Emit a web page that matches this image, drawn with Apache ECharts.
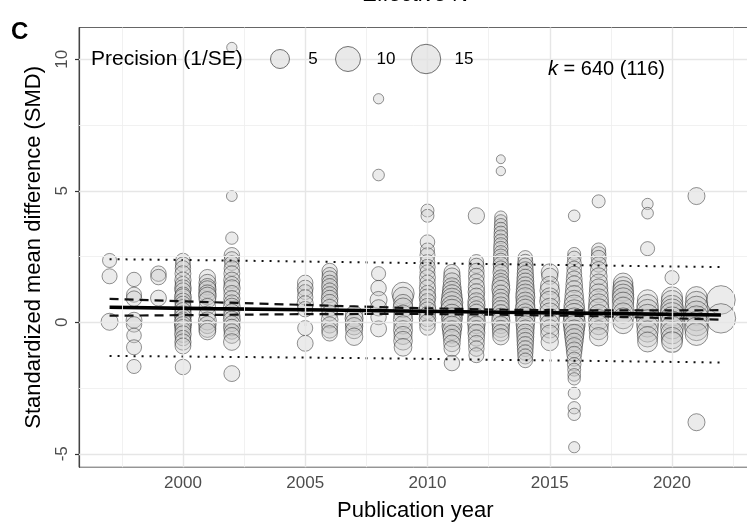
<!DOCTYPE html>
<html>
<head>
<meta charset="utf-8">
<script src="https://cdn.jsdelivr.net/npm/echarts@6/dist/echarts.min.js"></script>
<style>
  html, body { margin: 0; padding: 0; background: #fff; }
  #chart { width: 747px; height: 527px; }
</style>
</head>
<body>
<div id="chart"></div>
<script>
// publication years that have effect sizes
const years = [1997, 1998, 1999, 2000, 2001, 2002, 2005, 2006, 2007, 2008, 2009, 2010,
  2011, 2012, 2013, 2014, 2015, 2016, 2017, 2018, 2019, 2020, 2021, 2022];

// SMD per year (same order as years)
const smd = [
  [2.35, 1.75, 0.02],
  [1.63, 1.05, 0.9, 0.08, -0.08, -0.5, -0.95, -1.68],
  [1.85, 1.72, 0.92],
  [2.35, 2.2, 2.05, 1.85, 1.6, 1.45, 1.3, 1.2, 1.05, 0.95, 0.8, 0.7, 0.55, 0.45, 0.3, 0.2, 0.1, 0.0, -0.1, -0.2, -0.3, -0.45, -0.6, -0.75, -0.9, -1.7],
  [1.7, 1.5, 1.35, 1.25, 1.1, 1.0, 0.85, 0.6, 0.3, 0.05, -0.1, -0.25, -0.35],
  [10.45, 4.8, 3.2, 2.55, 2.4, 2.25, 2.05, 1.85, 1.6, 1.45, 1.3, 1.1, 0.9, 0.75, 0.6, 0.4, 0.25, 0.1, -0.05, -0.2, -0.35, -0.5, -0.75, -1.95],
  [1.5, 1.3, 1.15, 0.95, 0.7, 0.5, -0.22, -0.8],
  [1.95, 1.8, 1.65, 1.5, 1.35, 1.2, 1.05, 0.9, 0.75, 0.55, 0.35, 0.1, -0.1, -0.3, -0.42],
  [0.3, 0.15, 0.0, -0.15, -0.3, -0.55],
  [8.5, 5.6, 1.85, 1.3, 0.85, 0.55, 0.2, -0.25],
  [1.1, 0.95, 0.7, 0.55, 0.3, 0.1, -0.1, -0.3, -0.5, -0.7, -0.95],
  [4.25, 4.05, 3.05, 2.75, 2.55, 2.3, 2.1, 1.9, 1.7, 1.5, 1.3, 1.1, 0.95, 0.8, 0.6, 0.45, 0.3, 0.15, 0.0, -0.2],
  [1.9, 1.75, 1.55, 1.35, 1.2, 1.05, 0.9, 0.75, 0.6, 0.45, 0.3, 0.15, 0.0, -0.15, -0.3, -0.45, -0.6, -0.8, -1.0, -1.55],
  [4.05, 2.3, 2.15, 1.95, 1.75, 1.55, 1.35, 1.15, 1.0, 0.8, 0.65, 0.5, 0.35, 0.2, 0.05, -0.1, -0.25, -0.4, -0.6, -0.8, -1.0, -1.25],
  [6.2, 5.75, 4.0, 3.85, 3.7, 3.55, 3.4, 3.25, 3.1, 2.95, 2.8, 2.65, 2.5, 2.35, 2.2, 2.05, 1.9, 1.7, 1.55, 1.4, 1.25, 1.1, 0.95, 0.8, 0.65, 0.5, 0.35, 0.2, 0.05, -0.1, -0.25, -0.4, -0.55],
  [2.45, 2.3, 2.15, 2.0, 1.85, 1.7, 1.55, 1.4, 1.25, 1.1, 0.95, 0.8, 0.65, 0.5, 0.35, 0.2, 0.05, -0.1, -0.25, -0.4, -0.55, -0.7, -0.85, -1.0, -1.15, -1.3, -1.45],
  [1.9, 1.75, 1.4, 1.2, 0.95, 0.8, 0.55, 0.35, 0.15, -0.05, -0.25, -0.45, -0.75],
  [4.05, 2.6, 2.45, 2.25, 2.05, 1.85, 1.65, 1.45, 1.25, 1.05, 0.85, 0.65, 0.45, 0.3, 0.15, 0.0, -0.15, -0.3, -0.45, -0.6, -0.75, -0.9, -1.05, -1.2, -1.4, -1.6, -1.8, -2.0, -2.15, -2.7, -3.25, -3.5, -4.75],
  [4.6, 2.75, 2.6, 2.45, 2.2, 2.0, 1.75, 1.5, 1.3, 1.1, 0.9, 0.7, 0.5, 0.3, 0.1, -0.1, -0.3, -0.55],
  [1.5, 1.35, 1.2, 1.05, 0.9, 0.75, 0.55, 0.35, 0.15, -0.05],
  [4.5, 4.15, 2.8, 0.85, 0.65, 0.45, 0.25, 0.05, -0.15, -0.35, -0.55, -0.75],
  [1.7, 0.95, 0.8, 0.6, 0.45, 0.3, 0.15, 0.0, -0.2, -0.4, -0.6, -0.75],
  [4.8, 0.95, 0.75, 0.55, 0.35, 0.15, -0.05, -0.25, -0.45, -3.8],
  [0.85, 0.15]
];

// precision (1/SE) per point, same layout as smd
const precision = [
  [2.4, 2.8, 3.8],
  [2.5, 2.8, 3.0, 3.2, 3.0, 2.6, 2.8, 2.4],
  [3.0, 3.0, 3.2],
  [2.6, 2.8, 3.0, 3.2, 3.4, 3.0, 3.6, 3.2, 3.0, 3.8, 3.4, 3.0, 3.6, 3.2, 3.8, 3.4, 3.0, 4.0, 3.6, 3.4, 3.2, 3.6, 3.0, 3.4, 3.2, 3.0],
  [3.4, 3.8, 3.6, 4.0, 3.8, 4.2, 3.6, 3.4, 3.6, 4.4, 4.0, 3.8, 3.6],
  [1.3, 1.4, 1.8, 3.0, 2.8, 2.6, 3.0, 3.2, 3.4, 3.0, 3.6, 3.2, 3.4, 3.0, 3.6, 3.2, 3.4, 3.8, 3.2, 3.6, 3.0, 3.2, 3.6, 3.2],
  [3.0, 3.2, 2.8, 3.0, 3.4, 3.0, 2.8, 3.2],
  [3.0, 2.8, 3.2, 3.0, 3.4, 3.0, 3.2, 3.6, 3.4, 3.8, 3.2, 3.6, 3.4, 3.2, 3.0],
  [4.0, 4.4, 4.2, 4.0, 3.8, 4.0],
  [1.3, 1.6, 2.4, 3.0, 3.8, 3.4, 3.0, 3.2],
  [7.5, 6.0, 5.0, 5.5, 4.8, 5.2, 4.6, 5.0, 4.4, 4.8, 4.2],
  [2.0, 2.0, 2.6, 2.4, 2.8, 2.6, 3.0, 2.8, 3.2, 3.0, 3.4, 3.2, 3.6, 3.0, 3.4, 3.8, 3.2, 3.6, 3.4, 3.0],
  [3.2, 3.6, 4.0, 4.4, 5.0, 5.6, 6.4, 7.2, 6.8, 7.6, 6.0, 6.6, 5.4, 5.8, 5.0, 4.4, 4.0, 3.6, 3.2, 3.0],
  [3.4, 2.6, 2.8, 3.0, 3.2, 3.0, 3.4, 3.6, 3.2, 3.8, 4.0, 3.6, 4.2, 3.8, 4.4, 4.0, 3.6, 3.8, 3.4, 3.2, 3.0, 2.8],
  [1.1, 1.15, 1.8, 1.9, 2.0, 2.1, 2.2, 2.3, 2.2, 2.4, 2.6, 2.4, 2.8, 2.6, 3.0, 2.8, 3.2, 3.0, 3.4, 4.2, 4.4, 3.6, 3.4, 3.8, 3.6, 4.0, 3.8, 4.2, 4.6, 4.0, 3.8, 3.6, 3.4],
  [2.6, 2.8, 3.0, 3.2, 3.4, 3.6, 3.8, 4.0, 4.4, 4.8, 5.2, 4.6, 5.0, 5.6, 4.8, 5.4, 5.0, 4.6, 4.2, 4.0, 3.8, 3.6, 3.4, 3.2, 3.0, 2.8, 2.6],
  [3.8, 3.4, 4.6, 5.4, 5.0, 5.8, 5.2, 6.0, 5.4, 5.0, 4.6, 4.4, 4.0],
  [1.6, 2.0, 2.2, 2.4, 2.6, 2.8, 3.2, 3.6, 4.0, 4.6, 5.2, 6.0, 6.8, 7.2, 6.4, 7.6, 6.8, 6.0, 5.4, 4.8, 4.2, 3.6, 3.2, 2.8, 2.4, 2.2, 2.0, 1.9, 1.8, 1.7, 1.8, 1.8, 1.5],
  [2.0, 2.4, 2.6, 2.8, 3.0, 3.4, 3.8, 4.2, 4.6, 5.0, 5.4, 5.8, 6.2, 5.6, 6.0, 5.4, 5.0, 4.6],
  [5.4, 5.8, 6.2, 6.6, 7.0, 6.4, 6.8, 6.0, 6.4, 5.8],
  [1.5, 1.6, 2.4, 6.0, 6.8, 7.4, 8.0, 7.6, 7.0, 6.6, 6.0, 5.6],
  [2.4, 6.4, 7.0, 7.6, 8.2, 8.8, 8.2, 7.6, 8.0, 7.4, 6.8, 6.2],
  [3.8, 6.8, 7.6, 8.4, 9.2, 10.0, 9.4, 8.6, 7.8, 3.8],
  [14.0, 15.0]
];

// meta-regression fit, confidence band and prediction band
const fitYears = [1997, 2001, 2005, 2009, 2013, 2017, 2022];
const fitMean = [0.57, 0.52, 0.48, 0.43, 0.38, 0.34, 0.28];
const ciUpper = [0.89, 0.77, 0.66, 0.55, 0.48, 0.45, 0.46];
const ciLower = [0.25, 0.28, 0.31, 0.32, 0.29, 0.23, 0.10];
const piUpper = [2.40, 2.36, 2.31, 2.26, 2.21, 2.16, 2.10];
const piLower = [-1.28, -1.31, -1.34, -1.38, -1.43, -1.47, -1.53];

const xMajor = [2000, 2005, 2010, 2015, 2020];
const xMinor = [1997.5, 2002.5, 2007.5, 2012.5, 2017.5, 2022.5];
const yMajor = [-5, 0, 5, 10];
const yMinor = [-2.5, 2.5, 7.5];
const legendPrecision = [5, 10, 15];

const FONT = '"Liberation Sans", Arial, Helvetica, sans-serif';

function bubble(p) {
  return 7 + 24 * Math.sqrt(Math.max(p - 1, 0) / 16);
}

const points = [];
years.forEach((yr, i) => {
  smd[i].forEach((v, j) => points.push([yr, v, precision[i][j]]));
});

function zip(xs, ys) {
  return xs.map((x, i) => [x, ys[i]]);
}

const gridLines = [];
xMinor.forEach(v => gridLines.push({ xAxis: v, lineStyle: { color: '#efefef', width: 0.9, type: 'solid' } }));
yMinor.forEach(v => gridLines.push({ yAxis: v, lineStyle: { color: '#efefef', width: 0.9, type: 'solid' } }));
xMajor.forEach(v => gridLines.push({ xAxis: v, lineStyle: { color: '#e6e6e6', width: 1.4, type: 'solid' } }));
yMajor.forEach(v => gridLines.push({ yAxis: v, lineStyle: { color: '#e6e6e6', width: 1.4, type: 'solid' } }));

// legend drawn by hand, like the ggplot size guide
const legendX = [280, 348, 426];
const legendLabelX = [313, 386, 464];
const graphics = [
  { type: 'text', x: 11, y: 32, style: { text: 'C', font: 'bold 24px ' + FONT, fill: '#000', verticalAlign: 'middle' } },
  { type: 'text', x: 415, y: 6, style: { text: 'Effective N', font: '22px ' + FONT, fill: '#000', align: 'center', verticalAlign: 'bottom' } },
  { type: 'text', x: 91, y: 59, z: 10, style: { text: 'Precision (1/SE)', font: '21px ' + FONT, fill: '#000', verticalAlign: 'middle' } },
  { type: 'text', x: 548, y: 69, z: 10, style: {
      text: '{k|k} = 640 (116)', font: '20px ' + FONT, fill: '#000', verticalAlign: 'middle',
      rich: { k: { fontStyle: 'italic', fontSize: 20, fontFamily: FONT } }
  } }
];
legendPrecision.forEach((p, i) => {
  graphics.push({ type: 'circle', z: 10, shape: { cx: legendX[i], cy: 59, r: bubble(p) / 2 },
    style: { fill: 'rgba(225,225,225,0.75)', stroke: 'rgba(80,80,80,0.8)', lineWidth: 1 } });
  graphics.push({ type: 'text', z: 10, x: legendLabelX[i], y: 59,
    style: { text: String(p), font: '17px ' + FONT, fill: '#000', align: 'center', verticalAlign: 'middle' } });
});

const myChart = echarts.init(document.getElementById('chart'));
const option = {
  animation: false,
  textStyle: { fontFamily: FONT },
  grid: {
    left: 79, top: 27.5, width: 672.5, height: 439.7,
    show: true, borderColor: '#666', borderWidth: 1, backgroundColor: 'transparent',
    outerBoundsMode: 'none'
  },
  xAxis: {
    type: 'value', min: 1995.75, max: 2023.25,
    name: 'Publication year', nameLocation: 'middle', nameGap: 33,
    nameTextStyle: { fontSize: 22, color: '#000', fontFamily: FONT },
    axisLine: { show: true, lineStyle: { color: '#444', width: 1.2 } },
    axisTick: { show: true, length: 4, customValues: xMajor, lineStyle: { color: '#333', width: 1.2 } },
    axisLabel: { customValues: xMajor, formatter: v => String(v), fontSize: 17, color: '#4d4d4d', margin: 8, fontFamily: FONT },
    splitLine: { show: false }
  },
  yAxis: {
    type: 'value', min: -5.51, max: 11.21,
    name: 'Standardized mean difference (SMD)', nameLocation: 'middle', nameGap: 34,
    nameTextStyle: { fontSize: 22, color: '#000', fontFamily: FONT },
    axisLine: { show: true, lineStyle: { color: '#444', width: 1.2 } },
    axisTick: { show: true, length: 4, customValues: yMajor, lineStyle: { color: '#333', width: 1.2 } },
    axisLabel: { customValues: yMajor, formatter: v => String(v), rotate: 90, fontSize: 17, color: '#4d4d4d', margin: 8, fontFamily: FONT },
    splitLine: { show: false }
  },
  graphic: graphics,
  series: [
    {
      type: 'scatter', data: [], silent: true, z: 1,
      markLine: { silent: true, symbol: 'none', label: { show: false }, data: gridLines, animation: false }
    },
    {
      type: 'scatter', data: points, z: 2,
      symbolSize: v => bubble(v[2]),
      itemStyle: { color: 'rgba(200,200,200,0.45)', borderColor: 'rgba(30,30,30,0.6)', borderWidth: 1 }
    },
    {
      type: 'line', data: zip(fitYears, piUpper), z: 3, showSymbol: false, symbol: 'none',
      lineStyle: { color: '#111', width: 2, type: [2, 6] }
    },
    {
      type: 'line', data: zip(fitYears, piLower), z: 3, showSymbol: false, symbol: 'none',
      lineStyle: { color: '#111', width: 2, type: [2, 6] }
    },
    {
      type: 'line', data: zip(fitYears, ciUpper), z: 3, showSymbol: false, symbol: 'none',
      lineStyle: { color: '#111', width: 2.2, type: [9, 6] }
    },
    {
      type: 'line', data: zip(fitYears, ciLower), z: 3, showSymbol: false, symbol: 'none',
      lineStyle: { color: '#111', width: 2.2, type: [9, 6] }
    },
    {
      type: 'line', data: zip(fitYears, fitMean), z: 4, showSymbol: false, symbol: 'none',
      lineStyle: { color: '#000', width: 3.6 }
    }
  ]
};
myChart.setOption(option);
</script>
</body>
</html>
